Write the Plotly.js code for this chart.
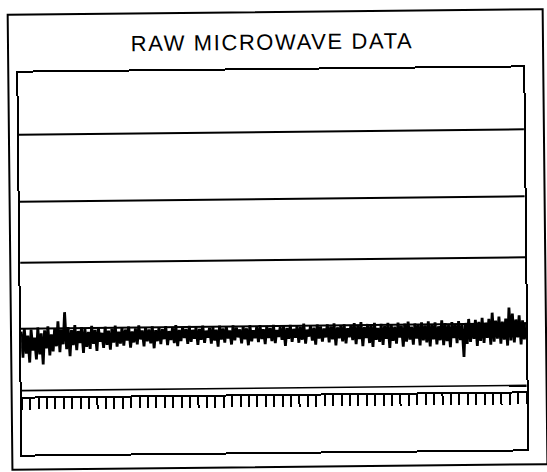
<!DOCTYPE html>
<html>
<head>
<meta charset="utf-8">
<script src="https://cdn.plot.ly/plotly-3.0.1.min.js"></script>
<style>
  html, body { margin: 0; padding: 0; background: #fff; overflow: hidden; }
  #chart { width: 547px; height: 472px; transform: rotate(-0.6deg); transform-origin: 50% 50%; }
  .gtitle { letter-spacing: 1.6px; }
</style>
</head>
<body>
<div id="chart"></div>
<script>
// ---- data ----
const chartTitle = "RAW MICROWAVE DATA";
// time axis (arbitrary sample units), one sample every 2 units
const timeRange = [0, 600];
const sampleStep = 2;
// raw microwave signal (amplitude units, frame bottom = 0, frame top = 382)
const signalValues = [
  123, 97, 126, 101, 119, 92, 125, 104, 117, 95, 127, 100, 121, 90, 124, 106, 128, 99, 120, 103,
  126, 108, 133, 102, 125, 110, 142, 105, 127, 98, 124, 109, 129, 104, 123, 111, 127, 101, 125, 107,
  122, 105, 128, 110, 124, 103, 126, 112, 121, 106, 127, 109, 123, 104, 125, 111, 128, 107, 122, 110,
  126, 108, 124, 113, 127, 106, 122, 111, 125, 109, 128, 114, 123, 107, 126, 112, 124, 110, 127, 105,
  123, 112, 126, 109, 124, 114, 127, 108, 122, 113, 125, 110, 128, 107, 123, 112, 126, 115, 124, 109,
  127, 111, 123, 114, 126, 108, 124, 113, 127, 110, 122, 115, 125, 109, 126, 112, 123, 106, 127, 113,
  124, 110, 126, 114, 122, 108, 127, 112, 125, 115, 123, 109, 126, 113, 124, 107, 127, 111, 122, 114,
  125, 110, 127, 113, 123, 108, 126, 114, 124, 111, 127, 109, 122, 115, 125, 112, 126, 106, 124, 113,
  127, 110, 123, 114, 126, 109, 125, 112, 128, 108, 122, 115, 126, 111, 124, 107, 127, 113, 125, 110,
  123, 114, 127, 109, 125, 112, 128, 106, 124, 113, 126, 110, 127, 108, 123, 114, 126, 111, 128, 107,
  125, 112, 129, 105, 124, 113, 127, 108, 126, 104, 128, 111, 123, 109, 127, 106, 125, 112, 128, 103,
  126, 110, 124, 107, 128, 113, 125, 104, 127, 109, 129, 111, 124, 106, 127, 112, 126, 105, 128, 110,
  125, 108, 129, 104, 126, 111, 128, 106, 124, 110, 130, 105, 127, 109, 125, 103, 128, 112, 126, 107,
  129, 110, 125, 93, 127, 106, 131, 108, 126, 111, 130, 104, 128, 109, 132, 107, 127, 112, 131, 105,
  137, 108, 129, 111, 133, 106, 128, 110, 131, 104, 142, 109, 136, 107, 130, 112, 134, 105, 129, 110, 127
];
// amplitude range of the frame and the channel divider levels
const amplitudeRange = [0, 382];
const channelLevels = [320, 253, 192, 126];
const stripUpperLevel = 64;     // thin line above the timing strip
const stripBaseLevel = 57;      // timing strip baseline (ticks hang from it)
const timingTick0 = 10, timingDtick = 10;

// ---- build ----
const timeValues = signalValues.map((_, i) => timeRange[0] + i * sampleStep);

const W = 547, H = 472;
const M = { l: 20, r: 22, t: 70, b: 20 };
const plotW = W - M.l - M.r, plotH = H - M.t - M.b;
const pxX = px => (px - M.l) / plotW;
const pxY = py => (H - M.b - py) / plotH;

const traces = [{
  x: timeValues,
  y: signalValues,
  type: 'scatter',
  mode: 'lines',
  line: { color: '#000', width: 2.8 },
  hoverinfo: 'skip',
  showlegend: false
}, {
  // carrier for the timing-strip axis
  x: timeRange,
  y: [null, null],
  xaxis: 'x2',
  yaxis: 'y',
  type: 'scatter',
  mode: 'lines',
  hoverinfo: 'skip',
  showlegend: false
}];

const shapes = [];
channelLevels.forEach(v => shapes.push({
  type: 'line', xref: 'paper', yref: 'y', x0: 0, x1: 1, y0: v, y1: v,
  line: { color: '#000', width: 2 }
}));
shapes.push({
  type: 'line', xref: 'paper', yref: 'y', x0: 0, x1: 1, y0: stripUpperLevel, y1: stripUpperLevel,
  line: { color: '#000', width: 1.6 }
});
// outer frame of the sheet
shapes.push({
  type: 'rect', xref: 'paper', yref: 'paper',
  x0: pxX(10), x1: pxX(545), y0: pxY(467), y1: pxY(12),
  line: { color: '#000', width: 2 }, fillcolor: 'rgba(0,0,0,0)'
});

const layout = {
  width: W, height: H,
  margin: M,
  paper_bgcolor: '#fff', plot_bgcolor: '#fff',
  showlegend: false,
  title: {
    text: chartTitle,
    font: { family: 'Liberation Sans, Arial, sans-serif', size: 22, color: '#000' },
    x: 274 / W, xanchor: 'center', xref: 'container',
    y: 1 - 42 / H, yanchor: 'middle', yref: 'container'
  },
  xaxis: {
    range: timeRange, showgrid: false, zeroline: false, showticklabels: false, ticks: '',
    showline: true, mirror: true, linecolor: '#000', linewidth: 2, fixedrange: true
  },
  xaxis2: {
    range: timeRange, overlaying: 'x', anchor: 'free',
    position: (stripBaseLevel - amplitudeRange[0]) / (amplitudeRange[1] - amplitudeRange[0]),
    side: 'bottom', showgrid: false, zeroline: false, showticklabels: false,
    ticks: 'outside', ticklen: 11, tickwidth: 2, tickcolor: '#000',
    tick0: timingTick0, dtick: timingDtick,
    showline: true, linecolor: '#000', linewidth: 2, fixedrange: true
  },
  yaxis: {
    range: amplitudeRange, showgrid: false, zeroline: false, showticklabels: false, ticks: '',
    showline: true, mirror: true, linecolor: '#000', linewidth: 2, fixedrange: true
  },
  shapes: shapes
};

Plotly.newPlot('chart', traces, layout, { staticPlot: true, displayModeBar: false });
</script>
</body>
</html>
